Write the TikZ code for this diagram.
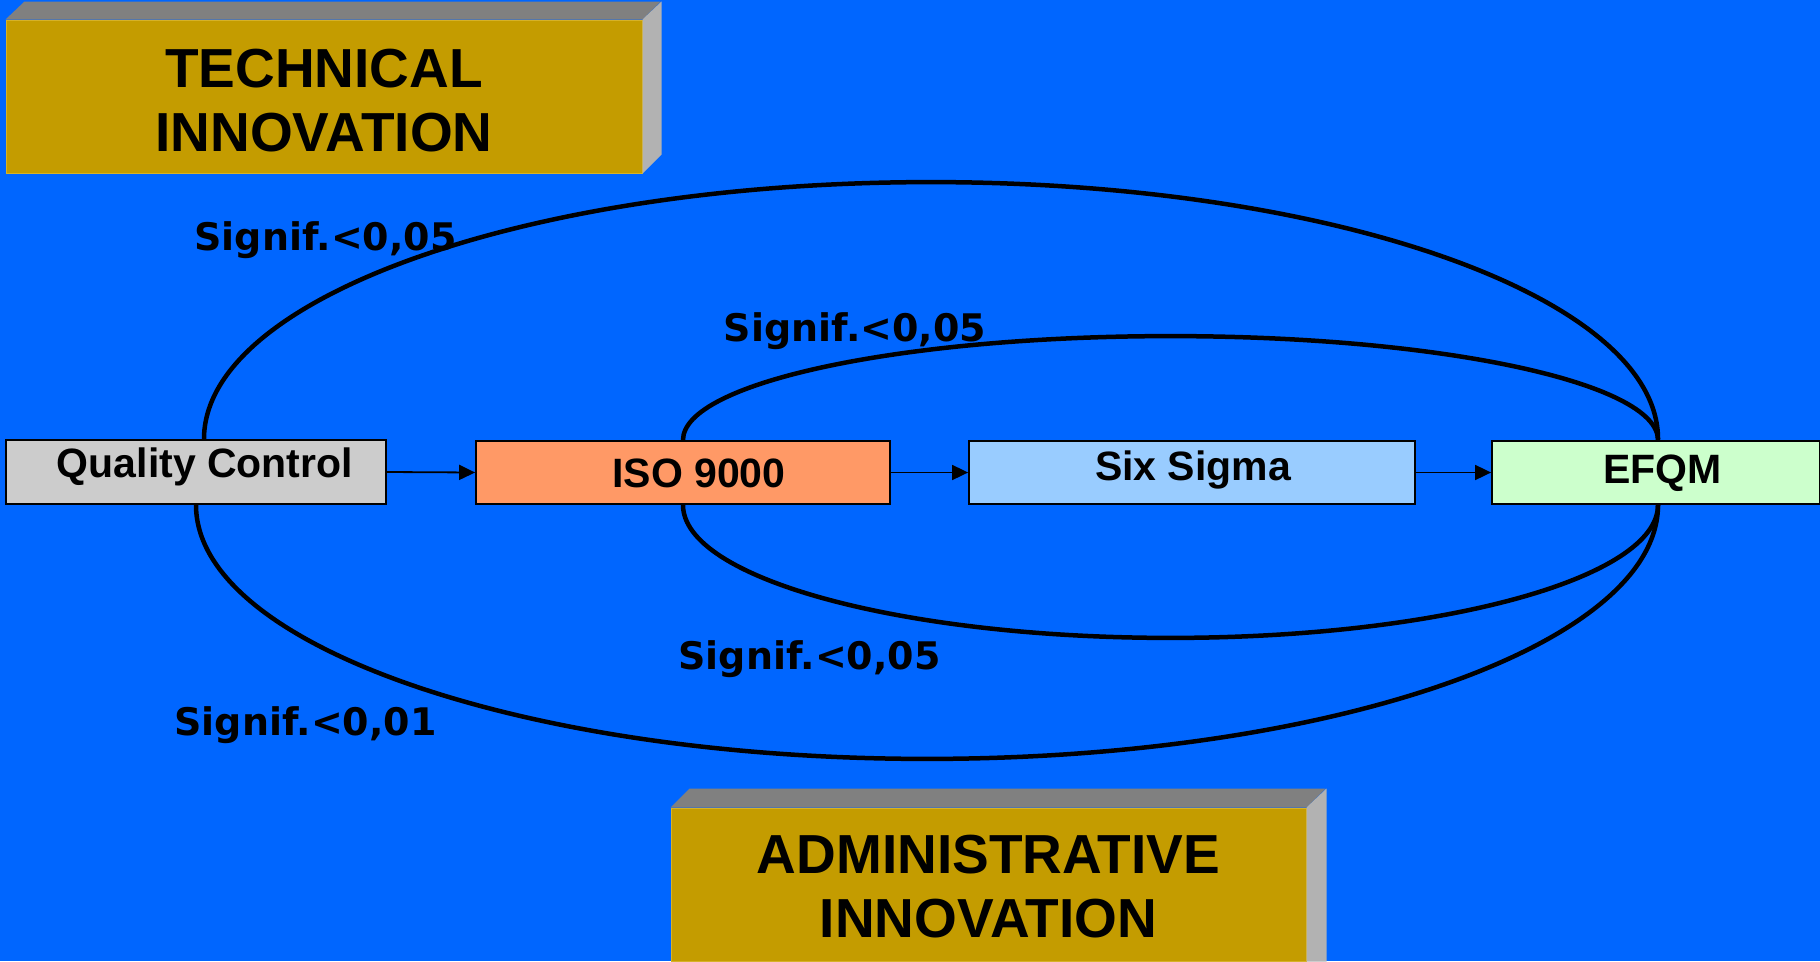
\documentclass[tikz,border=0pt]{standalone}
\usepackage{fontspec}
\setmainfont{Liberation Sans}
\newfontfamily\labfont{DejaVu Sans}
\usetikzlibrary{arrows.meta}
\definecolor{bg}{RGB}{0,102,255}
\definecolor{gold}{RGB}{196,156,0}
\definecolor{goldedge}{RGB}{214,178,40}
\definecolor{topgray}{RGB}{128,128,128}
\definecolor{sidegray}{RGB}{178,178,178}
\definecolor{qcfill}{RGB}{204,204,204}
\definecolor{isofill}{RGB}{255,153,102}
\definecolor{sixfill}{RGB}{153,204,255}
\definecolor{efqmfill}{RGB}{204,255,204}
\begin{document}
\begin{tikzpicture}[x=1pt,y=1pt,
  box/.style={draw=black, line width=1.8pt, inner sep=0pt, text height=29pt, font=\fontsize{41}{49}\selectfont\bfseries},
  flow/.style={line width=1.8pt, -{Triangle[length=16pt,width=15pt]}},
  ring/.style={line width=4.5pt},
  lab/.style={anchor=base, font=\labfont\fontsize{38}{46}\selectfont\bfseries, inner sep=0pt},
  title/.style={fill=gold, draw=goldedge, line width=1pt, inner sep=0pt, align=center, text depth=0pt, font=\fontsize{55}{64}\selectfont\bfseries},
]
\fill[bg] (0,0) rectangle (1820,-961);
\useasboundingbox (0,0) rectangle (1820,-961);

% title boxes
\node[title, minimum width=636pt, minimum height=153pt, text height=110pt] (tech) at (324,-96.5) {TECHNICAL\\INNOVATION};
\fill[topgray] (tech.north west) -- ++(19,18) -- ++(636,0) -- (tech.north east) -- cycle;
\fill[sidegray] (tech.north east) -- ++(19,18) -- ++(0,-153) -- (tech.south east) -- cycle;

\node[title, minimum width=635pt, minimum height=153pt, text height=106pt] (admin) at (988.5,-884.5) {ADMINISTRATIVE\\INNOVATION};
\fill[topgray] (admin.north west) -- ++(19,19) -- ++(636,0) -- (admin.north east) -- cycle;
\fill[sidegray] (admin.north east) -- ++(20,19) |- (admin.south east) -- cycle;

% process boxes
\node[box, fill=qcfill, minimum width=380pt, minimum height=64pt, text depth=19pt] (qc) at (196,-472) {\hspace*{18pt}Quality Control};
\node[box, fill=isofill, minimum width=414pt, minimum height=63pt, text depth=0pt] (iso) at (683,-472.5) {\hspace*{32pt}ISO 9000};
\node[box, fill=sixfill, minimum width=446pt, minimum height=63pt, text depth=14pt] (six) at (1192,-472.5) {\hspace*{2pt}Six Sigma};
\node[box, fill=efqmfill, minimum width=328pt, minimum height=63pt, text depth=7pt] (efqm) at (1656,-472.5) {\hspace*{13pt}EFQM};

% arcs
\draw[ring] ([xshift=8pt]qc.north) arc[start angle=180, end angle=0, x radius=727pt, y radius=257pt];
\draw[ring] (iso.north) arc[start angle=180, end angle=0, x radius=487.5pt, y radius=104pt];
\draw[ring] (iso.south) arc[start angle=180, end angle=360, x radius=487.5pt, y radius=133pt];
\draw[ring] (qc.south) arc[start angle=180, end angle=360, x radius=731pt, y radius=254pt];

% flow arrows
\draw[flow] (qc.east) -- (iso.west);
\draw[flow] (iso.east) -- (six.west);
\draw[flow] (six.east) -- (efqm.west);

% labels
\node[lab] (l1) at (325.5,-250) {Signif.<0,05};
\node[lab] (l2) at (855,-341) {Signif.<0,05};
\node[lab] (l3) at (809.5,-669) {Signif.<0,05};
\node[lab] (l4) at (305.5,-735) {Signif.<0,01};
\end{tikzpicture}
\end{document}
